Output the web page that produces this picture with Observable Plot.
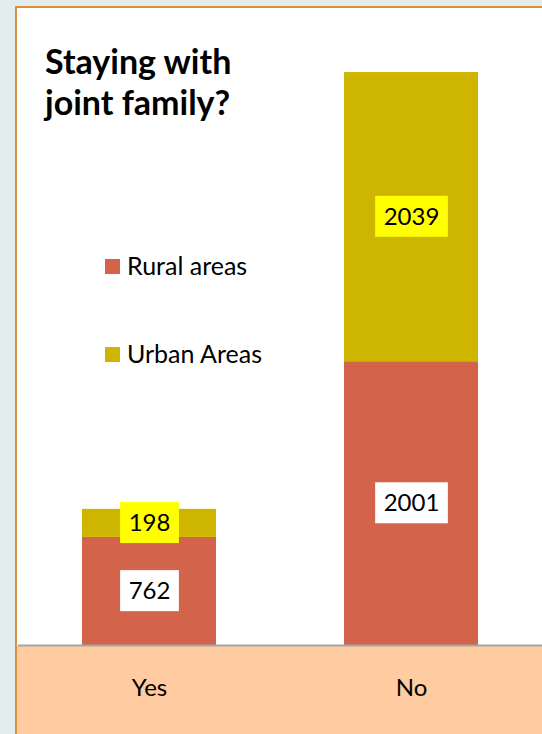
<!DOCTYPE html>
<html>
<head>
<meta charset="utf-8">
<script src="https://cdn.jsdelivr.net/npm/d3@7"></script>
<script src="https://cdn.jsdelivr.net/npm/@observablehq/plot@0.6"></script>
<style>
  html, body { margin: 0; padding: 0; }
  body { width: 542px; height: 734px; overflow: hidden; position: relative; background: #e3edec; font-family: Lato, "Open Sans", sans-serif; }
  #frame { position: absolute; left: 15px; top: 6px; width: 540px; height: 740px; border-left: 2px solid #d9913f; border-top: 2px solid #d9913f; background: #ffffff; }
  #band { position: absolute; left: 17px; top: 646px; width: 525px; height: 88px; background: #fecca0; }
  #chart { position: absolute; left: 0; top: 0; }
  #title { position: absolute; left: 45px; top: 40px; font-weight: bold; font-size: 34px; line-height: 41px; color: #000; }
  .lg-sw { position: absolute; width: 15px; height: 15px; }
  .lg-tx { position: absolute; font-size: 25px; line-height: 25px; color: #000; white-space: nowrap; }
</style>
</head>
<body>
<div id="frame"></div>
<div id="band"></div>
<div id="chart"></div>
<div id="title">Staying with<br>joint family?</div>
<div id="legend"></div>
<script>
const answers = ["Yes", "No"];
const areas = ["Rural areas", "Urban Areas"];
const rural = [762, 2001];
const urban = [198, 2039];
const colors = ["#d3644b", "#ceb500"];
const labelBg = ["#ffffff", "#ffff00"];

const data = answers.flatMap((a, i) => [
  {answer: a, area: areas[0], value: rural[i]},
  {answer: a, area: areas[1], value: urban[i]}
]);

const chart = Plot.plot({
  width: 542,
  height: 734,
  marginLeft: 18,
  marginRight: 0,
  marginTop: 21,
  marginBottom: 89,
  style: {background: "transparent", fontFamily: "Lato, 'Open Sans', sans-serif", fontSize: "24px", color: "#000", overflow: "visible"},
  x: {domain: answers, paddingInner: 0.488, paddingOuter: 0.243, label: null},
  y: {domain: [0, 4400], axis: null},
  color: {domain: areas, range: colors},
  marks: [
    Plot.barY(data, {x: "answer", y: "value", fill: "area"}),
    Plot.ruleY([0], {stroke: "#a6a6a6", strokeWidth: 2}),
    Plot.axisX({tickSize: 0, tickPadding: 33, fontSize: 24, label: null, fill: "#000"}),
    Plot.text(data, Plot.stackY({x: "answer", y: "value", z: "area", text: d => String(d.value), fill: "#000", fontSize: 24, className: "vlabel"}))
  ]
});
document.getElementById("chart").appendChild(chart);

// background boxes behind the value labels
const texts = chart.querySelectorAll("g.vlabel text");
texts.forEach((t, i) => {
  const b = t.getBBox();
  const w = b.width + 17, h = 41;
  const cx = b.x + b.width / 2, cy = b.y + b.height / 2 + 1;
  const r = document.createElementNS("http://www.w3.org/2000/svg", "rect");
  r.setAttribute("x", cx - w / 2);
  r.setAttribute("y", cy - h / 2);
  r.setAttribute("width", w);
  r.setAttribute("height", h);
  r.setAttribute("fill", labelBg[areas.indexOf(data[i].area)]);
  if (t.getAttribute("transform")) r.setAttribute("transform", t.getAttribute("transform"));
  t.parentNode.insertBefore(r, t);
});

// legend
const legend = document.getElementById("legend");
const legendTop = [259, 347];
areas.forEach((a, i) => {
  const sw = document.createElement("div");
  sw.className = "lg-sw";
  sw.style.left = "105px";
  sw.style.top = legendTop[i] + "px";
  sw.style.background = colors[i];
  legend.appendChild(sw);
  const tx = document.createElement("div");
  tx.className = "lg-tx";
  tx.style.left = "127px";
  tx.style.top = (legendTop[i] - 6) + "px";
  tx.textContent = a;
  legend.appendChild(tx);
});
</script>
</body>
</html>
